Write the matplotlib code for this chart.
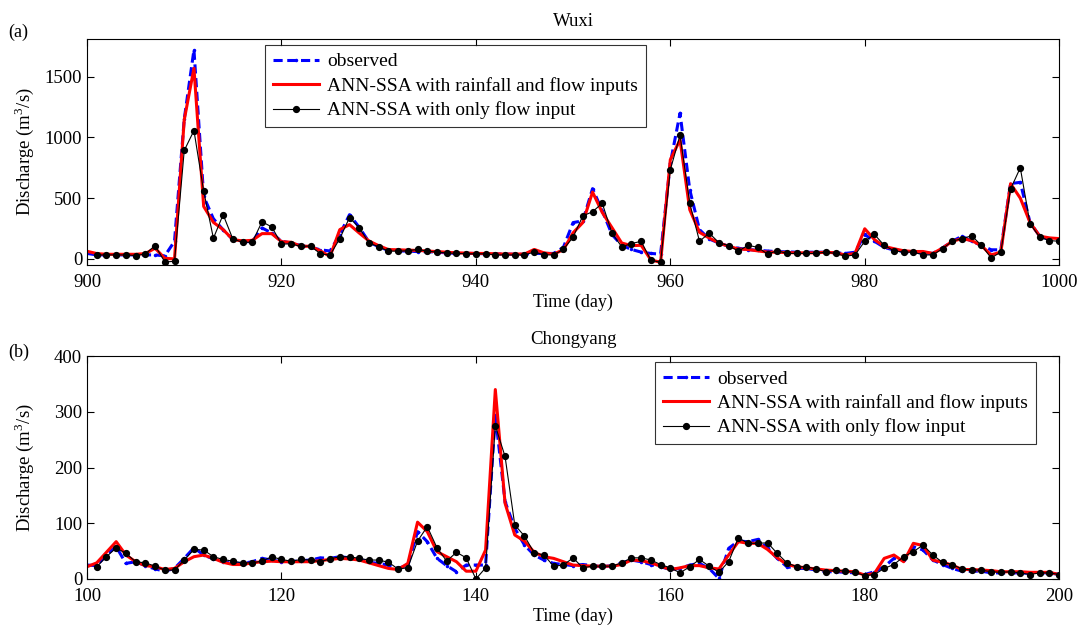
import numpy as np
import matplotlib.pyplot as plt

plt.rcParams['font.family'] = ['Liberation Serif', 'DejaVu Serif']
plt.rcParams['mathtext.fontset'] = 'custom'
plt.rcParams['mathtext.rm'] = 'Liberation Serif'

# ---- Wuxi (days 900-1000) ----
days_a = np.arange(900, 1001)
obs_a = [45, 33, 33, 33, 33, 33, 33, 33, 25, 145,
         1150, 1720, 515, 330, 240, 160, 142, 142, 255, 213,
         145, 131, 110, 95, 75, 65, 200, 364, 260, 140,
         100, 70, 65, 65, 60, 60, 55, 50, 45, 45,
         45, 42, 40, 40, 38, 38, 45, 45, 45, 95,
         299, 313, 578, 396, 201, 112, 78, 56, 45, 39,
         788, 1199, 569, 241, 164, 131, 104, 88, 77, 71,
         65, 60, 58, 55, 55, 55, 55, 50, 45, 55,
         201, 145, 95, 73, 61, 55, 50, 45, 90, 145,
         187, 145, 112, 75, 75, 620, 630, 300, 187, 159,
         145]
rain_a = [63, 44, 38, 38, 38, 38, 44, 88, 5, 0,
          1144, 1568, 432, 301, 241, 159, 148, 153, 208, 208,
          142, 137, 104, 104, 66, 20, 241, 282, 213, 148,
          109, 77, 75, 72, 70, 65, 60, 55, 50, 48,
          45, 45, 42, 40, 40, 40, 78, 50, 40, 75,
          215, 299, 550, 382, 257, 131, 109, 112, -8, -28,
          816, 980, 405, 219, 172, 131, 104, 82, 77, 66,
          56, 55, 52, 50, 50, 50, 55, 50, 33, 45,
          248, 159, 103, 84, 67, 61, 61, 45, 89, 145,
          167, 151, 109, 33, 56, 619, 500, 300, 187, 173,
          167]
flow_a = [np.nan, 33, 33, 33, 33, 28, 40, 110, -25, -20,
          892, 1056, 558, 170, 364, 164, 137, 137, 306, 263,
          123, 123, 103, 106, 42, 31, 167, 340, 257, 131,
          100, 64, 64, 67, 78, 64, 56, 50, 45, 42,
          42, 42, 33, 33, 33, 33, 56, 33, 33, 78,
          179, 354, 388, 458, 212, 100, 126, 145, -11, -28,
          733, 1018, 458, 145, 212, 134, 109, 64, 112, 95,
          39, 67, 45, 45, 45, 45, 56, 45, 22, 33,
          145, 201, 112, 67, 56, 56, 33, 33, 84, 145,
          167, 190, 112, 8, 56, 575, 750, 290, 179, 151,
          145]

# ---- Chongyang (days 100-200) ----
days_b = np.arange(100, 201)
obs_b = [25, 24, 43, 58, 28, 31, 24, 18, 14, 19,
         37, 56, 43, 36, 31, 28, 28, 31, 37, 34,
         31, 31, 33, 34, 38, 37, 40, 38, 36, 30,
         28, 25, 19, 25, 85, 67, 37, 24, 13, 25,
         25, 25, 295, 139, 91, 61, 43, 34, 28, 26,
         24, 26, 24, 22, 24, 29, 34, 31, 26, 22,
         17, 19, 25, 28, 19, 1, 55, 68, 67, 71,
         55, 37, 22, 19, 19, 16, 13, 13, 12, 11,
         8, 13, 22, 37, 34, 58, 52, 34, 26, 19,
         14, 14, 14, 11, 11, 11, 11, 10, 11, 11,
         8]
rain_b = [22, 29, 48, 67, 43, 31, 24, 22, 17, 19,
          31, 40, 43, 37, 30, 26, 26, 29, 31, 32,
          31, 31, 31, 31, 33, 35, 37, 36, 34, 29,
          24, 19, 17, 28, 102, 85, 49, 40, 31, 14,
          14, 52, 340, 136, 79, 68, 48, 40, 37, 31,
          25, 24, 23, 23, 23, 26, 34, 33, 29, 23,
          17, 20, 24, 24, 20, 18, 43, 67, 64, 64,
          53, 38, 26, 22, 20, 18, 16, 15, 14, 13,
          7, 10, 37, 43, 31, 64, 60, 34, 30, 25,
          17, 17, 16, 15, 13, 13, 13, 12, 12, 12,
          8]
flow_b = [np.nan, 22, 40, 56, 46, 31, 29, 23, 16, 16,
          34, 53, 52, 40, 35, 32, 29, 29, 32, 40,
          35, 32, 35, 34, 31, 36, 40, 40, 37, 34,
          34, 30, 18, 20, 68, 94, 56, 32, 48, 38,
          0, 20, 275, 220, 97, 77, 47, 43, 23, 25,
          38, 20, 23, 23, 23, 29, 38, 38, 34, 26,
          20, 11, 22, 35, 23, 12, 31, 74, 64, 64,
          65, 46, 29, 22, 22, 18, 13, 16, 14, 12,
          6, 8, 19, 26, 40, 49, 61, 43, 30, 26,
          18, 16, 16, 13, 12, 13, 11, 8, 11, 11,
          8]

labels = ['observed', 'ANN-SSA with rainfall and flow inputs',
          'ANN-SSA with only flow input']

fig = plt.figure(figsize=(10.85, 6.35), dpi=100)
ax1 = fig.add_axes([0.0802, 0.5827, 0.896, 0.356])
ax2 = fig.add_axes([0.0802, 0.0882, 0.896, 0.351])


def draw(ax, x, obs, rain, flow, title, xlim, ylim, yticks, xticks, legend_anchor):
    ax.plot(x, obs, '--', color='blue', lw=2.2, marker='.', markersize=3,
            dashes=(3, 1.5), label=labels[0])
    ax.plot(x, rain, '-', color='red', lw=2.2, label=labels[1])
    ax.plot(x, flow, '-', color='black', lw=0.8, marker='o', markersize=4.2,
            label=labels[2])
    ax.set_xlim(*xlim)
    ax.set_ylim(*ylim)
    ax.set_xticks(xticks)
    ax.set_yticks(yticks)
    ax.tick_params(direction='in', top=True, right=True, length=5, width=0.8,
                   labelsize=13.5)
    ax.tick_params(axis='x', pad=6.5)
    ax.tick_params(axis='y', pad=3.5)
    ax.set_title(title, fontsize=13.5, pad=9)
    ax.set_xlabel('Time (day)', fontsize=13, labelpad=2)
    ax.set_ylabel('Discharge (m$^3$/s)', fontsize=13.5)
    ax.yaxis.set_label_coords(-0.052, 0.5)
    leg = ax.legend(loc='upper left', bbox_to_anchor=legend_anchor, fontsize=14,
                    frameon=True, fancybox=False, edgecolor='black',
                    handlelength=2.4, borderpad=0.4, labelspacing=0.34,
                    handletextpad=0.4, borderaxespad=0)
    leg.get_frame().set_linewidth(0.8)


draw(ax1, days_a, obs_a, rain_a, flow_a, 'Wuxi', (900, 1000), (-50, 1810),
     [0, 500, 1000, 1500], np.arange(900, 1001, 20), (0.183, 0.973))
draw(ax2, days_b, obs_b, rain_b, flow_b, 'Chongyang', (100, 200), (0, 400),
     [0, 100, 200, 300, 400], np.arange(100, 201, 20), (0.584, 0.973))

fig.text(0.0074, 0.9496, '(a)', fontsize=13, va='center')
fig.text(0.0074, 0.4457, '(b)', fontsize=13, va='center')

fig.savefig('out.png', dpi=100)
